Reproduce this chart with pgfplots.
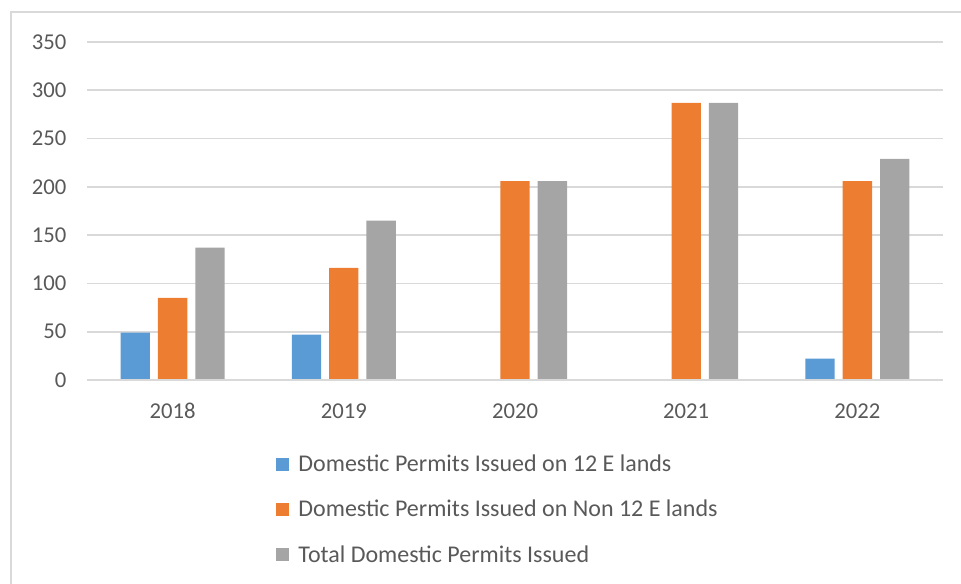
\documentclass[border=0pt]{standalone}
\usepackage{pgfplots}
\pgfplotsset{compat=1.18}
\usepackage{fontspec}
\setmainfont{Carlito}
\definecolor{cblue}{HTML}{5B9BD5}
\definecolor{corange}{HTML}{ED7D31}
\definecolor{cgray}{HTML}{A5A5A5}
\definecolor{gridc}{HTML}{D9D9D9}
\definecolor{txt}{HTML}{595959}
\begin{document}
\begin{tikzpicture}
\begin{axis}[
  at={(65.25pt,153pt)}, anchor=south west,
  scale only axis, width=642pt, height=253.5pt,
  xmin=-0.5, xmax=4.5, ymin=0, ymax=350,
  ytick={0,50,...,350},
  xtick={0,1,2,3,4},
  xticklabels={2018,2019,2020,2021,2022},
  ybar, bar width=22pt,
  axis line style={draw=none},
  ymajorgrids, grid style={gridc, line width=1.2pt},
  major tick length=0pt,
  tick label style={font=\fontsize{17}{20}\selectfont, text=txt},
  /pgf/number format/assume math mode=true,
  yticklabel style={xshift=-12pt},
  xticklabel style={yshift=-14pt},
  legend style={at={(0.221,-0.213)}, anchor=north west, draw=none, fill=none,
    font=\fontsize{18}{22}\selectfont, text=txt, row sep=16pt, inner sep=0pt},
  legend cell align=left,
  legend image code/.code={\fill[#1] (0pt,-4.9pt) rectangle (9.75pt,4.9pt); \path (14.5pt,0pt);},
  clip=false,
]
\addplot[fill=cblue, draw=none, bar shift=-28pt] coordinates {(0,49) (1,47) (2,0) (3,0) (4,22)};
\addplot[fill=corange, draw=none, bar shift=0pt] coordinates {(0,85) (1,116) (2,206) (3,287) (4,206)};
\addplot[fill=cgray, draw=none, bar shift=28pt] coordinates {(0,137) (1,165) (2,206) (3,287) (4,229)};
\draw[gridc, line width=1.2pt] (rel axis cs:0,0) -- (rel axis cs:1,0);
\legend{Domestic Permits Issued on 12 E lands, Domestic Permits Issued on Non 12 E lands, Total Domestic Permits Issued}
\end{axis}
\draw[gridc, line width=1.5pt] (8.25pt,-5pt) -- (8.25pt,429pt) -- (730pt,429pt);
\pgfresetboundingbox
\useasboundingbox (0,0) rectangle (720.75pt,438pt);
\end{tikzpicture}
\end{document}
